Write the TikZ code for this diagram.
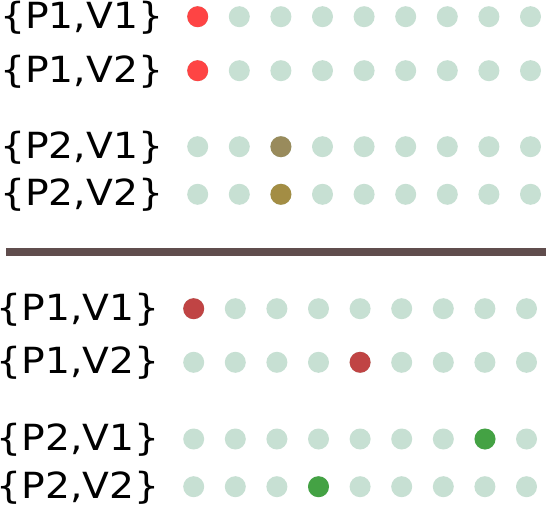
\documentclass[tikz,border=0pt]{standalone}
\usepackage{fontspec}
\setmainfont{DejaVu Sans}
\definecolor{dotgray}{HTML}{C7E0D3}
\definecolor{redA}{HTML}{FE4444}
\definecolor{oliveA}{HTML}{998B5C}
\definecolor{oliveB}{HTML}{A38D44}
\definecolor{redB}{HTML}{C04444}
\definecolor{greenB}{HTML}{44A244}
\definecolor{barcol}{HTML}{604D4D}
\tikzset{
  lbl/.style={anchor=west,inner sep=0pt,font=\fontsize{36}{43}\selectfont},
}
\newcommand{\lbltext}[1]{\scalebox{1.09}[1]{#1}}
\begin{document}
\begin{tikzpicture}[x=1pt,y=-1pt]
\useasboundingbox[fill=white] (0,0) rectangle (546,505);
% top labels
\node[lbl] (t1) at (0,17.5) {\lbltext{\{P1,V1\}}};
\node[lbl] (t2) at (0,71.5) {\lbltext{\{P1,V2\}}};
\node[lbl] (t3) at (0,147.5) {\lbltext{\{P2,V1\}}};
\node[lbl] (t4) at (0,195) {\lbltext{\{P2,V2\}}};
% bottom labels
\node[lbl] (b1) at (-3.5,309.5) {\lbltext{\{P1,V1\}}};
\node[lbl] (b2) at (-3.5,363) {\lbltext{\{P1,V2\}}};
\node[lbl] (b3) at (-3.5,439.8) {\lbltext{\{P2,V1\}}};
\node[lbl] (b4) at (-3.5,487.5) {\lbltext{\{P2,V2\}}};
% top dots
\foreach \y in {16.7,70.7,146.7,194.3}{
  \foreach \i in {0,...,8}{
    \fill[dotgray] (197.7+41.6*\i,\y) circle (10.5);
  }
}
\fill[redA] (197.7,16.7) circle (10.5);
\fill[redA] (197.7,70.7) circle (10.5);
\fill[oliveA] (280.9,146.7) circle (10.5);
\fill[oliveB] (280.9,194.3) circle (10.5);
% bar
\fill[barcol] (6,247.8) rectangle (546,256.3);
% bottom dots
\foreach \y in {308.7,362.3,439,486.7}{
  \foreach \i in {0,...,8}{
    \fill[dotgray] (193.7+41.6*\i,\y) circle (10.5);
  }
}
\fill[redB] (193.7,308.7) circle (10.5);
\fill[redB] (360.1,362.3) circle (10.5);
\fill[greenB] (485.0,439) circle (10.5);
\fill[greenB] (318.5,486.7) circle (10.5);
\end{tikzpicture}
\end{document}
